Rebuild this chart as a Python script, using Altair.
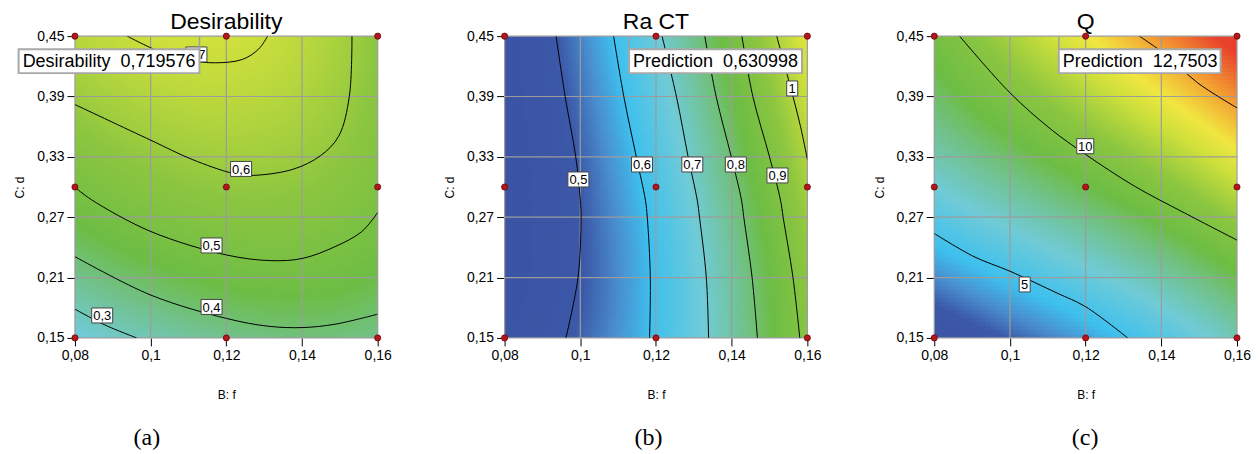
import numpy as np
import pandas as pd
import altair as alt

alt.data_transformers.disable_max_rows()

FONT = "Liberation Sans"

# ---------------- axes / design ----------------
F_TICKS = [0.08, 0.1, 0.12, 0.14, 0.16]
D_TICKS = [0.15, 0.21, 0.27, 0.33, 0.39, 0.45]
DESIGN_F = [0.08, 0.08, 0.08, 0.12, 0.12, 0.12, 0.16, 0.16, 0.16]
DESIGN_D = [0.15, 0.30, 0.45, 0.15, 0.30, 0.45, 0.15, 0.30, 0.45]

# colour ramp (position along ramp, colour)
RAMP_T = [0.00, 0.12, 0.17, 0.22, 0.31, 0.40, 0.46, 0.56, 0.67, 0.74, 0.86, 1.00]
RAMP_C = ["#3b52a3", "#3c58a8", "#4a8fcf", "#3ec0ee", "#70cbd7", "#71c185",
          "#6dbd45", "#8cc640", "#cfe03c", "#f1e641", "#f39c32", "#e8412c"]

# ---------------- panel (a) Desirability ----------------
DES_RANGE = (-0.125, 1.125)
DES_C03 = [(0.0800, 0.1786), (0.0879, 0.1629), (0.0963, 0.1500)]
DES_C04 = [(0.0800, 0.2308), (0.1001, 0.1925), (0.1201, 0.1693), (0.1311, 0.1616),
           (0.1402, 0.1603), (0.1487, 0.1636), (0.1600, 0.1736)]
DES_C05 = [(0.0800, 0.2998), (0.0844, 0.2873), (0.1001, 0.2557), (0.1201, 0.2324),
           (0.1320, 0.2268), (0.1402, 0.2291), (0.1487, 0.2407), (0.1558, 0.2557),
           (0.1600, 0.2747)]
DES_C06 = [(0.0800, 0.3820), (0.1000, 0.3466), (0.1110, 0.3274), (0.1213, 0.3140),
           (0.1259, 0.3115), (0.1374, 0.3174), (0.1449, 0.3312), (0.1497, 0.3506),
           (0.1525, 0.3900), (0.1532, 0.4500)]
DES_C07 = [(0.0938, 0.4500), (0.1031, 0.4334), (0.1101, 0.4261), (0.1171, 0.4235),
           (0.1242, 0.4268), (0.1285, 0.4370), (0.1309, 0.4500)]
DES_LEVELS = [0.3, 0.4, 0.5, 0.6, 0.7]
DES_LAB_TEXT = ["0,3", "0,4", "0,5", "0,6", "0,7"]
DES_LAB_F = [0.0872, 0.1161, 0.1161, 0.1239, 0.1121]
DES_LAB_D = [0.1723, 0.1808, 0.2419, 0.3180, 0.4318]
DES_ANCHORS = [(0.08, 0.15, 0.25), (0.16, 0.15, 0.37), (0.08, 0.45, 0.66),
               (0.16, 0.45, 0.575), (0.1129, 0.45, 0.7196), (0.16, 0.30, 0.525)]

# ---------------- panel (b) Ra CT ----------------
RA_RANGE = (0.38, 1.38)
RA_C05 = [(0.0936, 0.45), (0.0960, 0.39), (0.0988, 0.33), (0.1000, 0.287),
          (0.1002, 0.27), (0.0994, 0.21), (0.0962, 0.15)]
RA_C06 = [(0.1088, 0.45), (0.1115, 0.39), (0.1148, 0.33), (0.1172, 0.287),
          (0.1177, 0.27), (0.1185, 0.21), (0.1183, 0.15)]
RA_C07 = [(0.1216, 0.45), (0.1254, 0.39), (0.1285, 0.33), (0.1309, 0.287),
          (0.1315, 0.27), (0.1333, 0.21), (0.1339, 0.15)]
RA_C08 = [(0.1329, 0.45), (0.1359, 0.39), (0.1399, 0.33), (0.1426, 0.287),
          (0.1432, 0.27), (0.1454, 0.21), (0.1468, 0.15)]
RA_C09 = [(0.1427, 0.45), (0.1456, 0.39), (0.1500, 0.33), (0.1529, 0.287),
          (0.1536, 0.27), (0.1562, 0.21), (0.1580, 0.15)]
RA_C10 = [(0.1519, 0.45), (0.1555, 0.40), (0.1582, 0.36), (0.1600, 0.3274)]
RA_LEVELS = [0.5, 0.6, 0.7, 0.8, 0.9, 1.0]
RA_LAB_TEXT = ["0,5", "0,6", "0,7", "0,8", "0,9", "1"]
RA_LAB_F = [0.0995, 0.1163, 0.1296, 0.1411, 0.1521, 0.1560]
RA_LAB_D = [0.3075, 0.3224, 0.3224, 0.3224, 0.3115, 0.3980]
RA_ANCHORS = [(0.08, 0.15, 0.43), (0.08, 0.30, 0.41), (0.08, 0.45, 0.42),
              (0.16, 0.15, 0.93), (0.16, 0.30, 0.98), (0.16, 0.45, 1.08),
              (0.1129, 0.45, 0.631)]

# ---------------- panel (c) Q ----------------
Q_RANGE = (1.1, 18.0)
Q_C05 = [(0.0800, 0.2538), (0.0905, 0.2308), (0.1000, 0.2163), (0.1125, 0.1945),
         (0.1200, 0.1810), (0.1311, 0.1500)]
Q_C10 = [(0.0867, 0.4500), (0.1000, 0.3937), (0.1109, 0.3572), (0.1200, 0.3324),
         (0.1329, 0.3009), (0.1461, 0.2743), (0.1600, 0.2472)]
Q_C15 = [(0.1342, 0.4500), (0.1417, 0.4301), (0.1496, 0.4036), (0.1600, 0.3787)]
Q_LEVELS = [5, 10, 15]
Q_LAB_TEXT = ["5", "10"]
Q_LAB_F = [0.1039, 0.1199]
Q_LAB_D = [0.2031, 0.3406]
Q_ANCHORS = [(0.08, 0.15, 2.3), (0.16, 0.45, 19.5), (0.08, 0.45, 9.3),
             (0.16, 0.15, 7.0), (0.1129, 0.45, 12.75)]

# prediction flags
PRED_F = 0.1129
PRED_D = 0.45
DES_PRED = ("Desirability\u00a0\u00a00,719576", "left", 181)
RA_PRED = ("Prediction\u00a0\u00a00,630998", "right", 173)
Q_PRED = ("Prediction\u00a0\u00a012,7503", "right", 162)

N = 76
W, H = 303, 302


def basis(f, d):
    x = (np.asarray(f, float) - 0.12) / 0.04
    y = (np.asarray(d, float) - 0.30) / 0.15
    return np.stack([np.ones_like(x), x, y, x * x, x * y, y * y,
                     x ** 3, x * x * y, x * y * y, y ** 3], axis=-1)


def surface(curves, levels, anchors):
    fs, ds, vs = [], [], []
    for c, lv in zip(curves, levels):
        for f, d in c:
            fs.append(f); ds.append(d); vs.append(lv)
    for f, d, v in anchors:
        fs.append(f); ds.append(d); vs.append(v)
    coef, *_ = np.linalg.lstsq(basis(fs, ds), np.array(vs), rcond=None)
    fe = np.linspace(0.08, 0.16, N + 1)
    de = np.linspace(0.15, 0.45, N + 1)
    sf, sd = fe[1] - fe[0], de[1] - de[0]
    F0, D0 = np.meshgrid(fe[:-1], de[:-1])
    val = basis(F0 + sf / 2, D0 + sd / 2) @ coef
    # cells overlap their neighbours slightly so no seams show between them
    F1 = np.minimum(F0 + 1.35 * sf, 0.16)
    D1 = np.minimum(D0 + 1.35 * sd, 0.45)
    return pd.DataFrame({"f0": F0.ravel().round(5), "f1": F1.ravel().round(5),
                         "d0": D0.ravel().round(5), "d1": D1.ravel().round(5),
                         "v": val.ravel().round(4)})


def curves_df(curves, levels):
    rows = []
    for c, lv in zip(curves, levels):
        for i, (f, d) in enumerate(c):
            rows.append({"f": f, "d": d, "lev": str(lv), "i": i})
    return pd.DataFrame(rows)


xs = alt.Scale(domain=[0.08, 0.16], nice=False, zero=False)
ys = alt.Scale(domain=[0.15, 0.45], nice=False, zero=False)
LBL = "replace(toString(datum.value), '.', ',')"
xaxis = alt.Axis(values=F_TICKS, labelExpr=LBL, title="B: f", grid=False, domain=False,
                 tickColor="black", tickSize=8, tickWidth=1, labelFont=FONT,
                 labelFontSize=14, labelColor="black", labelPadding=3,
                 titleFont=FONT, titleFontSize=12, titleFontWeight="normal",
                 titleColor="black", titlePadding=27, labelFlush=False)
yaxis = alt.Axis(values=D_TICKS, labelExpr=LBL, title="C: d", grid=False, domain=False,
                 tickColor="black", tickSize=8, tickWidth=1, labelFont=FONT,
                 labelFontSize=14, labelColor="black", labelPadding=3,
                 titleFont=FONT, titleFontSize=12, titleFontWeight="normal",
                 titleColor="black", titlePadding=10, labelFlush=False)


def panel(title, curves, levels, anchors, rng, lab_text, lab_f, lab_d, pred, caption, cap_x):
    surf = surface(curves, levels, anchors)
    lo, hi = rng
    cscale = alt.Scale(domain=[lo + t * (hi - lo) for t in RAMP_T], range=RAMP_C,
                       interpolate="rgb", clamp=True)
    heat = alt.Chart(surf).mark_rect(strokeWidth=0).encode(
        x=alt.X("f0:Q", scale=xs, axis=xaxis), x2="f1:Q",
        y=alt.Y("d0:Q", scale=ys, axis=yaxis), y2="d1:Q",
        color=alt.Color("v:Q", scale=cscale, legend=None),
    )
    gx = alt.Chart(pd.DataFrame({"f": F_TICKS})).mark_rule(
        color="#9c9c9c", strokeWidth=1.2).encode(x=alt.X("f:Q", scale=xs))
    gy = alt.Chart(pd.DataFrame({"d": D_TICKS})).mark_rule(
        color="#9c9c9c", strokeWidth=1.2).encode(y=alt.Y("d:Q", scale=ys))
    lines = alt.Chart(curves_df(curves, levels)).mark_line(
        color="black", strokeWidth=1, interpolate="catmull-rom", clip=True).encode(
        x=alt.X("f:Q", scale=xs), y=alt.Y("d:Q", scale=ys),
        detail="lev:N", order="i:Q")
    labs = pd.DataFrame({"t": lab_text, "f": lab_f, "d": lab_d})
    labs["w"] = labs["t"].str.len()
    layers = [heat, gx, gy, lines]
    for n, w in [(1, 11), (2, 17), (3, 21)]:
        sub = labs[labs["w"] == n]
        if len(sub):
            layers.append(alt.Chart(sub).mark_rect(
                width=w, height=15, fill="white", stroke="#444", strokeWidth=1).encode(
                x=alt.X("f:Q", scale=xs), y=alt.Y("d:Q", scale=ys)))
    layers.append(alt.Chart(labs).mark_text(
        font=FONT, fontSize=13, color="black", baseline="middle", dy=1).encode(
        x=alt.X("f:Q", scale=xs), y=alt.Y("d:Q", scale=ys), text="t:N"))
    pts = pd.DataFrame({"f": DESIGN_F, "d": DESIGN_D})
    layers.append(alt.Chart(pts).mark_point(
        shape="circle", filled=True, size=38, fill="#b3161d", stroke="#6b0a0a",
        strokeWidth=0.8, opacity=1).encode(
        x=alt.X("f:Q", scale=xs), y=alt.Y("d:Q", scale=ys)))
    ptxt, side, bw = pred
    pdf = pd.DataFrame({"f": [PRED_F], "d": [PRED_D], "t": [ptxt]})
    sgn = -1 if side == "left" else 1
    layers.append(alt.Chart(pdf).mark_rule(color="#a0a0a0", strokeWidth=1.5).encode(
        x=alt.X("f:Q", scale=xs), y=alt.value(0), y2=alt.value(14)))
    layers.append(alt.Chart(pdf).mark_rect(
        width=bw, height=24, xOffset=sgn * bw / 2, yOffset=25, fill="white",
        stroke="#a8a8a8", strokeWidth=2).encode(
        x=alt.X("f:Q", scale=xs), y=alt.Y("d:Q", scale=ys)))
    layers.append(alt.Chart(pdf).mark_text(
        font=FONT, fontSize=18, color="black", baseline="middle",
        align="right" if side == "left" else "left", dx=sgn * 4, dy=26).encode(
        x=alt.X("f:Q", scale=xs), y=alt.Y("d:Q", scale=ys), text="t:N"))
    # panel title and caption
    layers.append(alt.Chart(pd.DataFrame({"c": [title]})).mark_text(
        font=FONT, fontSize=23, color="black", baseline="alphabetic", align="center").encode(
        x=alt.value(W / 2), y=alt.value(-7), text="c:N"))
    layers.append(alt.Chart(pd.DataFrame({"c": [caption]})).mark_text(
        font="Liberation Serif", fontSize=24, color="black", baseline="middle").encode(
        x=alt.value(cap_x), y=alt.value(402), text="c:N"))
    return alt.layer(*layers).properties(width=W, height=H)


pa = panel("Desirability", [DES_C03, DES_C04, DES_C05, DES_C06, DES_C07], DES_LEVELS,
           DES_ANCHORS, DES_RANGE, DES_LAB_TEXT, DES_LAB_F, DES_LAB_D, DES_PRED, "(a)", 72)
pb = panel("Ra CT", [RA_C05, RA_C06, RA_C07, RA_C08, RA_C09, RA_C10], RA_LEVELS,
           RA_ANCHORS, RA_RANGE, RA_LAB_TEXT, RA_LAB_F, RA_LAB_D, RA_PRED, "(b)", 144)
pc = panel("Q", [Q_C05, Q_C10, Q_C15], Q_LEVELS, Q_ANCHORS, Q_RANGE,
           Q_LAB_TEXT, Q_LAB_F, Q_LAB_D, Q_PRED, "(c)", 151)

chart = alt.hconcat(pa, pb, pc, spacing=127, bounds="flush").resolve_scale(
    color="independent").properties(
    padding={"left": 5, "top": 3, "right": 0, "bottom": 0}).configure_view(stroke=None)

chart.save("out.html", embed_options={"renderer": "svg", "actions": False})
